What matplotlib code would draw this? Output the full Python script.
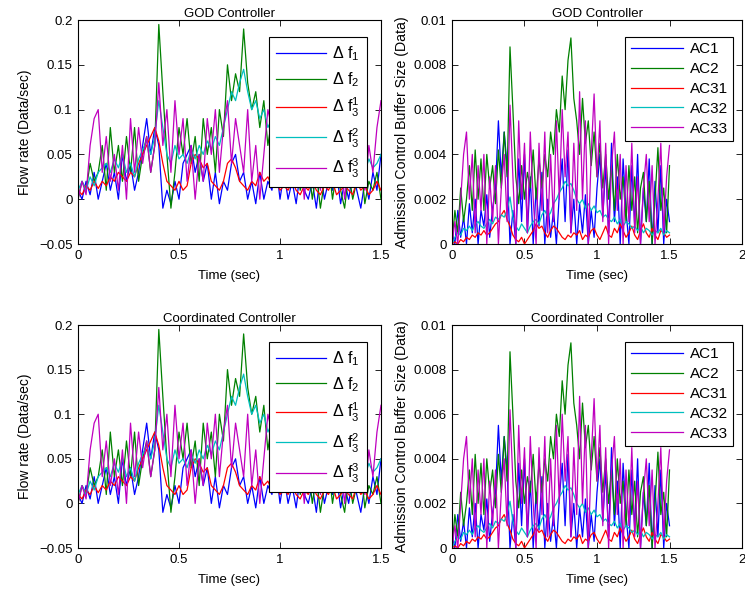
import numpy as np
import matplotlib
matplotlib.use('Agg')
import matplotlib.pyplot as plt

plt.rcParams['font.family'] = ['Liberation Sans', 'DejaVu Sans']
plt.rcParams['mathtext.fontset'] = 'custom'
plt.rcParams['mathtext.rm'] = 'Liberation Sans'
plt.rcParams['mathtext.it'] = 'Liberation Sans'
plt.rcParams['font.size'] = 9

# flow rate deviations (Data/sec), sampled every 0.02 s from 0 to 1.5 s
df1 = [0.01, 0.0, 0.02, 0.005, 0.03, 0.0,
       0.02, 0.04, 0.01, 0.03, 0.0, 0.05, 0.02, 0.04, 0.01, 0.03,
       0.06, 0.09, 0.05, 0.08, 0.06,
       -0.01, 0.01, -0.005, 0.02, 0.0, 0.04, 0.05,
       0.06, 0.03, 0.05, 0.02, 0.04,
       0.0, 0.03, -0.005, 0.02, 0.01,
       0.04, 0.05, 0.02, 0.03, 0.0,
       0.02, -0.005, 0.03, 0.0, 0.02, 0.01, 0.04, 0.0,
       0.03, 0.0, 0.02, -0.005, 0.03, 0.01, 0.0, 0.02, -0.01, 0.03,
       0.0, 0.02, 0.01, 0.03, -0.005, 0.02, 0.0, 0.03, 0.01, -0.01, 0.02, 0.0, 0.03, 0.01, 0.05]
df2 = [0.0, 0.02, 0.01, 0.04, 0.02, 0.03,
       0.06, 0.01, 0.08, 0.03, 0.06, 0.02, 0.07, 0.03, 0.08, 0.02,
       0.05, 0.07, 0.03, 0.06, 0.195,
       0.12, 0.05, -0.01, 0.03, 0.08, 0.05, 0.09,
       0.04, 0.07, 0.02, 0.09, 0.05,
       0.08, 0.03, 0.10, 0.07, 0.15,
       0.11, 0.14, 0.12, 0.19, 0.13,
       0.10, 0.12, 0.08, 0.11, 0.06, 0.09, 0.05, 0.10,
       0.04, 0.06, 0.02, 0.05, 0.01, 0.03, 0.04, 0.0, 0.03, -0.01,
       0.02, 0.04, 0.0, 0.03, 0.01, -0.01, 0.03, 0.0, 0.02, 0.04, -0.005, 0.02, 0.01, 0.03, 0.0]
df31 = [0.01, 0.005, 0.015, 0.01, 0.02, 0.012,
        0.02, 0.015, 0.025, 0.02, 0.03, 0.025, 0.02, 0.03, 0.025, 0.04,
        0.05, 0.06, 0.07, 0.08, 0.065,
        0.04, 0.02, 0.015, 0.01, 0.02, 0.01, 0.015,
        0.04, 0.05, 0.045, 0.035, 0.04,
        0.02, 0.015, 0.01, 0.02, 0.04,
        0.045, 0.035, 0.02, 0.015, 0.01,
        0.02, 0.015, 0.03, 0.02, 0.025, 0.015, 0.02, 0.01,
        0.015, 0.01, 0.02, 0.01, 0.005, 0.015, 0.01, 0.02, 0.01, 0.005,
        0.015, 0.01, 0.02, 0.005, 0.01, 0.015, 0.01, 0.005, 0.02, 0.01, 0.015, 0.005, 0.01, 0.02, 0.01]
df32 = [0.01, 0.02, 0.01, 0.025, 0.015, 0.03,
        0.035, 0.04, 0.03, 0.045, 0.035, 0.05, 0.03, 0.04, 0.025, 0.045,
        0.055, 0.065, 0.05, 0.07, 0.11,
        0.08, 0.05, 0.04, 0.06, 0.045, 0.05, 0.04,
        0.055, 0.045, 0.06, 0.05, 0.065,
        0.055, 0.07, 0.06, 0.08, 0.10,
        0.12, 0.11, 0.13, 0.145, 0.12,
        0.10, 0.11, 0.09, 0.10, 0.08, 0.09, 0.07, 0.08,
        0.06, 0.07, 0.05, 0.06, 0.045, 0.05, 0.04, 0.05, 0.035, 0.045,
        0.04, 0.05, 0.03, 0.045, 0.035, 0.04, 0.03, 0.05, 0.035, 0.04, 0.03, 0.045, 0.035, 0.04, 0.05]
df33 = [0.0, 0.02, 0.005, 0.06, 0.09, 0.1,
        0.03, 0.07, 0.02, 0.05, 0.01, 0.06, 0.0, 0.09, 0.03, 0.08,
        0.04, 0.07, 0.03, 0.06, 0.13,
        0.06, 0.10, 0.03, 0.11, 0.05, 0.09, 0.02,
        0.06, 0.0, 0.05, 0.02, 0.09,
        0.05, 0.10, 0.03, 0.08, 0.11,
        0.04, 0.09, 0.06, 0.03, 0.10,
        0.02, 0.06, 0.0, 0.05, 0.10, 0.08, 0.12, 0.07,
        0.11, 0.04, 0.08, 0.02, 0.06, 0.0, 0.05, 0.03, 0.07, 0.01,
        0.06, 0.02, 0.08, 0.03, 0.05, 0.0, 0.04, 0.07, 0.02, 0.05, 0.01, 0.06, 0.03, 0.08, 0.11]

# admission control buffer sizes, in units of 1e-3 Data
ac1 = [0.5, 0.0, 1.5, 0.3, 1.2, 0.0,
       1.8, 0.5, 2.0, 0.0, 1.5, 0.8, 2.2, 0.3, 1.6, 2.5,
       5.5, 3.0, 5.0, 3.5, 0.0,
       1.5, 0.0, 3.8, 1.0, 4.0, 0.5, 3.0,
       0.0, 2.5, 0.8, 3.2, 0.0,
       2.0, 0.3, 1.5, 0.0, 2.2,
       3.8, 1.0, 4.2, 0.5, 2.0,
       0.0, 1.8, 0.5, 2.2, 0.0, 1.5, 0.3, 2.5,
       4.0, 1.2, 3.5, 0.5, 4.5, 1.0, 3.0, 0.0, 3.8, 1.5,
       0.0, 3.5, 0.8, 4.0, 0.0, 2.5, 1.0, 3.8, 0.0, 2.8, 0.5, 3.5, 0.0, 2.0, 1.0]
ac2 = [0.0, 1.5, 0.5, 2.5, 1.0, 2.0,
       3.5, 1.5, 4.2, 2.0, 3.8, 1.5, 4.0, 2.5, 3.5, 1.8,
       4.2, 2.5, 5.0, 3.0, 8.8,
       6.0, 3.0, 1.8, 3.5, 2.0, 3.2, 2.5,
       4.2, 2.0, 3.8, 2.5, 4.0,
       3.0, 5.0, 4.0, 6.0, 5.0,
       7.5, 6.0, 8.2, 9.2, 6.5,
       5.5, 4.0, 6.5, 4.5, 5.5, 3.5, 5.0, 3.0,
       4.5, 2.5, 4.0, 2.0, 3.5, 1.5, 4.0, 2.0, 3.0, 1.0,
       3.5, 1.5, 3.0, 0.5, 2.5, 3.2, 1.0, 2.8, 0.0, 2.0, 4.3, 1.5, 2.5, 0.5, 3.5]
ac31 = [0.0, 0.1, 0.0, 0.2, 0.1, 0.3,
        0.2, 0.4, 0.3, 0.5, 0.4, 0.6, 0.4, 0.5, 0.7, 0.9,
        1.0, 1.3, 1.5, 1.1, 0.8,
        0.4, 0.2, 0.1, 0.3, 0.0, 0.2, 0.4,
        0.6, 0.9, 0.7, 0.8, 0.5,
        0.3, 0.6, 0.8, 0.7, 0.5,
        0.3, 0.2, 0.4, 0.3, 0.5,
        0.4, 0.6, 0.2, 0.4, 0.3, 0.6, 0.7, 0.4,
        0.2, 0.5, 0.8, 0.4, 0.3, 0.7, 0.5, 0.9, 0.6, 0.3,
        0.5, 0.8, 0.4, 0.2, 0.6, 0.9, 0.5, 0.3, 0.7, 0.4, 0.2, 0.6, 0.5, 0.3, 0.4]
ac32 = [0.0, 0.3, 0.5, 0.4, 0.7, 0.6,
        0.8, 0.6, 0.9, 1.0, 0.8, 0.7, 0.9, 1.1, 0.9, 1.2,
        1.1, 1.3, 1.2, 1.5, 2.1,
        1.2, 0.8, 0.6, 0.9, 0.7, 0.5, 0.8,
        1.0, 1.1, 0.9, 1.3, 1.5,
        1.2, 1.4, 1.8, 2.0, 2.3,
        2.5, 2.8, 2.6, 2.7, 2.4,
        2.0, 1.8, 2.0, 1.6, 1.8, 1.5, 1.7, 1.4,
        1.5, 1.2, 1.3, 1.1, 1.0, 1.2, 0.9, 1.1, 0.8, 1.0,
        0.9, 0.7, 0.8, 0.6, 0.8, 0.5, 0.7, 0.6, 0.4, 0.6, 0.5, 0.7, 0.4, 0.6, 0.5]
ac33 = [0.0, 1.0, 0.0, 2.0, 4.0, 5.0,
        2.0, 4.0, 0.5, 3.5, 1.5, 4.0, 0.0, 3.0, 1.0, 3.5,
        0.0, 2.5, 4.0, 1.0, 6.2,
        3.0, 0.0, 5.5, 2.0, 4.5, 0.5, 5.0,
        2.0, 0.0, 4.5, 1.5, 5.0,
        0.5, 4.0, 1.0, 5.5, 2.0,
        6.0, 3.0, 5.0, 0.5, 4.5,
        1.5, 6.8, 2.0, 5.5, 0.0, 4.0, 6.7, 3.0,
        5.5, 1.0, 4.5, 0.0, 3.5, 5.0, 1.5, 4.0, 0.0, 3.5,
        1.0, 4.5, 0.5, 3.0, 0.0, 2.5, 4.0, 1.0, 3.5, 0.0, 2.0, 4.5, 0.5, 3.0, 4.4]

flow_series = [df1, df2, df31, df32, df33]
flow_labels = [r'Δ f$_1$', r'Δ f$_2$', r'Δ f$_3^1$', r'Δ f$_3^2$', r'Δ f$_3^3$']
buf_series = [ac1, ac2, ac31, ac32, ac33]
buf_labels = ['AC1', 'AC2', 'AC31', 'AC32', 'AC33']
titles = ['GOD Controller', 'Coordinated Controller']

colors = [(0, 0, 1), (0, 0.5, 0), (1, 0, 0), (0, 0.75, 0.75), (0.75, 0, 0.75)]


def style_axes(ax):
    ax.tick_params(direction='in', top=True, right=True, length=4, width=0.6,
                   labelsize=9.5, pad=4)
    for s in ax.spines.values():
        s.set_linewidth(0.8)


fig = plt.figure(figsize=(7.45, 5.92), dpi=100)

rows = [(0.5878, 0.3784), (0.0743, 0.3767)]
for r, (bottom, height) in enumerate(rows):
    # flow rate panel
    ax = fig.add_axes([0.1047, bottom, 0.4067, height])
    for y, c, lab in zip(flow_series, colors, flow_labels):
        t = np.linspace(0, 1.5, len(y))
        ax.plot(t, y, color=c, lw=0.9, label=lab)
    ax.set_xlim(0, 1.5)
    ax.set_ylim(-0.05, 0.2)
    ax.set_xticks([0, 0.5, 1, 1.5])
    ax.set_xticklabels(['0', '0.5', '1', '1.5'])
    ax.set_yticks([-0.05, 0, 0.05, 0.1, 0.15, 0.2])
    ax.set_yticklabels(['\u22120.05', '0', '0.05', '0.1', '0.15', '0.2'])
    ax.set_title(titles[r], fontsize=9.5, pad=2)
    ax.set_xlabel('Time (sec)', fontsize=9.5, labelpad=6)
    ax.set_ylabel('Flow rate (Data/sec)', fontsize=10, labelpad=5)
    style_axes(ax)
    leg = ax.legend(loc='upper right', bbox_to_anchor=(0.954, 0.924), borderaxespad=0,
                    fancybox=False, edgecolor='black', framealpha=1, handlelength=3.1,
                    labelspacing=0.45, borderpad=0.45, fontsize=11.5, handletextpad=0.4)
    leg.get_frame().set_linewidth(0.8)

    # buffer size panel
    ax = fig.add_axes([0.6067, bottom, 0.3893, height])
    for y, c, lab in zip(buf_series, colors, buf_labels):
        t = np.linspace(0, 1.5, len(y))
        ax.plot(t, np.array(y) * 1e-3, color=c, lw=0.9, label=lab)
    ax.set_xlim(0, 2)
    ax.set_ylim(0, 0.01)
    ax.set_xticks([0, 0.5, 1, 1.5, 2])
    ax.set_xticklabels(['0', '0.5', '1', '1.5', '2'])
    ax.set_yticks([0, 0.002, 0.004, 0.006, 0.008, 0.01])
    ax.set_yticklabels(['0', '0.002', '0.004', '0.006', '0.008', '0.01'])
    ax.set_title(titles[r], fontsize=9.5, pad=2)
    ax.set_xlabel('Time (sec)', fontsize=9.5, labelpad=6)
    ax.set_ylabel('Admission Control Buffer Size (Data)', fontsize=10.2, labelpad=3)
    style_axes(ax)
    leg = ax.legend(loc='upper right', bbox_to_anchor=(0.969, 0.924), borderaxespad=0,
                    fancybox=False, edgecolor='black', framealpha=1, handlelength=3.4,
                    labelspacing=0.38, borderpad=0.35, fontsize=11, handletextpad=0.45)
    leg.get_frame().set_linewidth(0.8)

fig.savefig('out.png', dpi=100)
